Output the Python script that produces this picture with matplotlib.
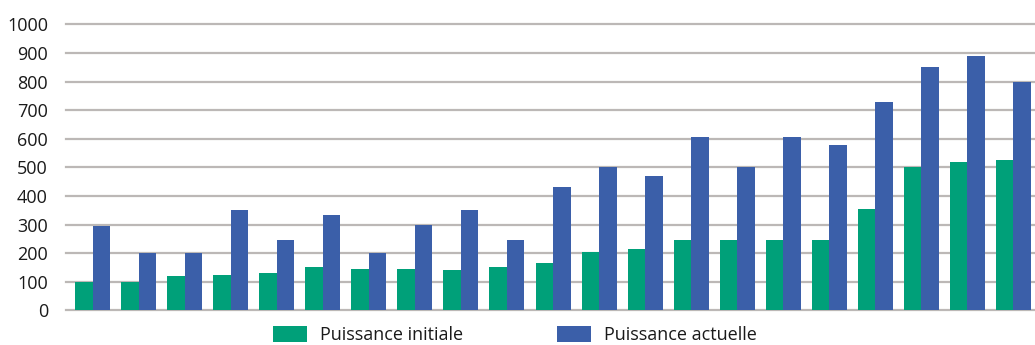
import matplotlib
matplotlib.use("Agg")
import matplotlib.pyplot as plt
import numpy as np

plt.rcParams['font.family'] = ['Open Sans', 'DejaVu Sans']

# Installation power per site (kW), initial vs current
initiale = [100, 100, 120, 125, 130, 150, 145, 145, 140, 150,
            165, 205, 215, 245, 245, 245, 245, 355, 500, 520, 525]
actuelle = [295, 200, 200, 350, 245, 335, 200, 300, 350, 245,
            430, 500, 470, 605, 500, 605, 580, 730, 850, 890, 800]
series_labels = ["Puissance initiale", "Puissance actuelle"]
yticks = [0, 100, 200, 300, 400, 500, 600, 700, 800, 900, 1000]

GREEN = "#00A079"
BLUE = "#3B5FA9"
GRID = "#BCB8B6"

fig = plt.figure(figsize=(10.35, 3.45), dpi=100)
ax = fig.add_axes([0.0638, 0.1006, 0.9362, 0.8284])

x = np.arange(len(initiale))
w = 0.38
b1 = ax.bar(x - w / 2, initiale, width=w, color=GREEN, zorder=3, label=series_labels[0])
b2 = ax.bar(x + w / 2, actuelle, width=w, color=BLUE, zorder=3, label=series_labels[1])

ax.set_xlim(-0.576, 20.467)
ax.set_ylim(0, 1000)
ax.set_yticks(yticks)
ax.set_yticklabels([str(v) for v in yticks], fontsize=13, color="#1a1a1a")
ax.set_xticks([])

ax.yaxis.grid(True, color=GRID, linewidth=1.6, zorder=0)
for gl in ax.get_ygridlines():
    gl.set_clip_on(False)
ax.set_axisbelow(True)
ax.tick_params(axis='y', length=0, pad=13)
for s in ax.spines.values():
    s.set_visible(False)

fig.legend(handles=[b1, b2], labels=series_labels, loc="upper left",
           bbox_to_anchor=(0.2638, 0.055), ncol=2, frameon=False,
           fontsize=13, handlelength=1.9, handleheight=1.0,
           handletextpad=0.7, columnspacing=5.2, borderpad=0,
           borderaxespad=0, labelcolor="#1a1a1a")

fig.savefig("out.png", dpi=100)
